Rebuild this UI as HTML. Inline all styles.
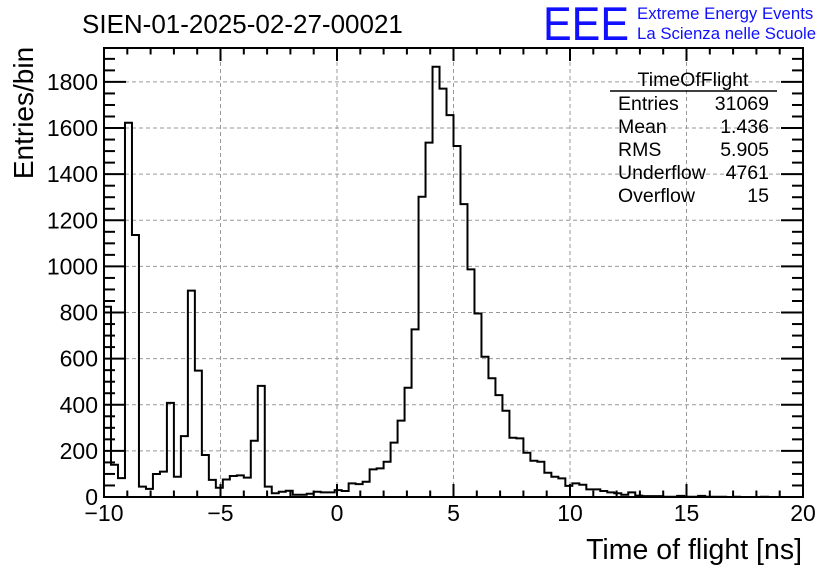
<!DOCTYPE html>
<html><head><meta charset="utf-8"><style>
html,body{margin:0;padding:0;background:#fff;}
svg{display:block;font-family:"Liberation Sans",sans-serif;}
</style></head><body>
<svg id="chart" width="836" height="572" xmlns="http://www.w3.org/2000/svg">
<rect width="836" height="572" fill="#fff"/>
<text x="82" y="33" font-size="26" fill="#000">SIEN-01-2025-02-27-00021</text>
<text x="543" y="40" font-size="47" fill="#1010ff" textLength="86" lengthAdjust="spacingAndGlyphs">EEE</text>
<text x="637" y="19" font-size="16.8" fill="#1010ff">Extreme Energy Events</text>
<text x="637" y="39" font-size="16.8" fill="#1010ff">La Scienza nelle Scuole</text>
<g id="grid"></g>
<g id="hist"></g>
<g id="axes"></g>
<g font-size="19.5">
<text x="693" y="86" text-anchor="middle">TimeOfFlight</text>
<line x1="610" y1="91" x2="777" y2="91" stroke="#000" stroke-width="1.5"/>
<text x="618" y="110">Entries</text><text x="769" y="110" text-anchor="end">31069</text>
<text x="618" y="133">Mean</text><text x="769" y="133" text-anchor="end">1.436</text>
<text x="618" y="156">RMS</text><text x="769" y="156" text-anchor="end">5.905</text>
<text x="618" y="179">Underflow</text><text x="769" y="179" text-anchor="end">4761</text>
<text x="618" y="202">Overflow</text><text x="769" y="202" text-anchor="end">15</text>
</g>
<text x="802" y="559" font-size="28.5" text-anchor="end">Time of flight [ns]</text>
<text transform="translate(33,113) rotate(-90)" font-size="28" text-anchor="middle">Entries/bin</text>
</svg>
<script>
const binLow = -10;
const binWidth = 0.3;
const counts = [825,140,82,1623,1136,45,35,100,110,408,88,264,895,548,182,74,40,76,91,94,84,244,482,45,16,23,27,10,10,14,23,20,20,30,26,59,56,66,120,124,153,236,331,474,727,1302,1537,1866,1771,1656,1522,1270,987,796,608,515,442,374,257,254,192,157,153,105,88,81,48,59,53,33,33,26,20,16,10,20,6,4,4,4,1,1,5,1,1,5,1,1,1,0,1,0,0,0,1,0,0,0,0,0];
const xTicks = [-10,-5,0,5,10,15,20];
const xTickLabels = ["\u221210","\u22125","0","5","10","15","20"];
const yTicks = [0,200,400,600,800,1000,1200,1400,1600,1800];
const NS="http://www.w3.org/2000/svg";
const L=104,R=803,T=48,B=497,XMIN=-10,XMAX=20,YMAX=(B-T)/0.2306;
const sx=v=>L+(v-XMIN)/(XMAX-XMIN)*(R-L);
const sy=v=>B-v/YMAX*(B-T);
function mk(tag,attrs,parent){const e=document.createElementNS(NS,tag);for(const k in attrs)e.setAttribute(k,attrs[k]);parent.appendChild(e);return e;}
const grid=document.getElementById('grid'),hist=document.getElementById('hist'),axes=document.getElementById('axes');
xTicks.forEach(t=>{if(t>XMIN&&t<XMAX){const l=mk('line',{x1:sx(t),x2:sx(t),y1:T,y2:B,stroke:'#999','stroke-dasharray':'4,3','stroke-width':1},grid);

}});
yTicks.forEach(t=>{if(t>0){const l=mk('line',{x1:L,x2:R,y1:sy(t),y2:sy(t),stroke:'#999','stroke-dasharray':'4,3','stroke-width':1},grid);

}});
let d='M'+sx(binLow)+','+sy(0);
counts.forEach((c,i)=>{const x0=sx(binLow+i*binWidth),x1=sx(binLow+(i+1)*binWidth);d+=' L'+x0+','+sy(c)+' L'+x1+','+sy(c);});
d+=' L'+sx(binLow+counts.length*binWidth)+','+sy(0);
const p=mk('path',{d:d,fill:'none',stroke:'#000','stroke-width':2},hist);


const fr=mk('rect',{x:L,y:T,width:R-L,height:B-T,fill:'none',stroke:'#000','stroke-width':2},axes);


for(let v=XMIN;v<=XMAX;v+=1){const maj=(v%5===0);const len=maj?13:6.5;
mk('line',{x1:sx(v),x2:sx(v),y1:B,y2:B-len,stroke:'#000','stroke-width':2},axes);
mk('line',{x1:sx(v),x2:sx(v),y1:T,y2:T+len,stroke:'#000','stroke-width':2},axes);}
for(let v=0;v<=YMAX;v+=50){const maj=(v%200===0);const len=maj?22:11;
mk('line',{x1:L,x2:L+len,y1:sy(v),y2:sy(v),stroke:'#000','stroke-width':2},axes);
mk('line',{x1:R,x2:R-len,y1:sy(v),y2:sy(v),stroke:'#000','stroke-width':2},axes);}
xTicks.forEach((t,i)=>{const tx=mk('text',{x:sx(t),y:521,'font-size':23,'text-anchor':'middle'},axes);tx.textContent=xTickLabels[i];

});
yTicks.forEach(t=>{const tx=mk('text',{x:98,y:sy(t)+8,'font-size':23,'text-anchor':'end'},axes);tx.textContent=String(t);

});
</script>
</body></html>
